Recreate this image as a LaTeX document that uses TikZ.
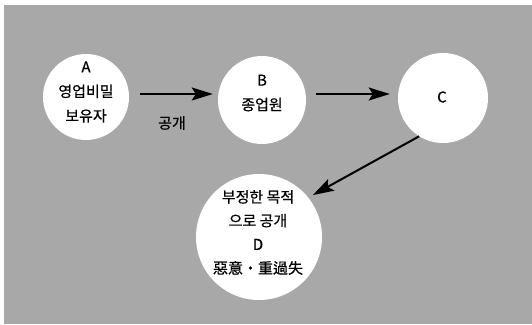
\documentclass[tikz,border=0pt]{standalone}
\usepackage{fontspec}
\setmainfont{Noto Sans CJK KR}[FakeBold=0.6]
\usetikzlibrary{arrows.meta}
\definecolor{bggray}{gray}{0.66}
\begin{document}
\begin{tikzpicture}[x=1pt,y=-1pt,
  bubble/.style={circle,fill=white,draw=none,inner sep=0pt},
  lbl/.style={font=\fontsize{15}{24.5}\selectfont,align=center,inner sep=0pt},
  arr/.style={line width=2pt,-{Stealth[length=21pt,width=13pt,inset=4pt]}}]
\useasboundingbox (0,0) rectangle (532,324);
\fill[bggray] (4,5) rectangle (532,324);
% circles
\node[bubble,minimum size=86pt] (A) at (86,97) {};
\node[bubble,minimum size=88pt] (B) at (262,100) {};
\node[bubble,minimum size=90pt] (C) at (443,98) {};
\node[bubble,minimum size=126pt] (D) at (259,237) {};
% texts
\node[lbl] (At) at (86,92) {A\\영업비밀\\보유자};
\node[lbl] (Bt) at (262,93) {B\\종업원};
\node[lbl] (Ct) at (442,97) {C};
\node[lbl,font=\fontsize{15}{23.7}\selectfont] (Dt) at (258,232.5) {부정한 목적\\으로 공개\\D\\惡意・重過失};
\node[lbl] (pub) at (172,123) {공개};
% arrows
\draw[arr] ([shift={(11,-3)}]A.east) -- ([shift={(-5,-6)}]B.west);
\draw[arr] ([shift={(10,-6)}]B.east) -- ([shift={(-8,-4)}]C.west);
\draw[arr] (C.238) -- ([shift={(4,-3)}]D.38);
\end{tikzpicture}
\end{document}
